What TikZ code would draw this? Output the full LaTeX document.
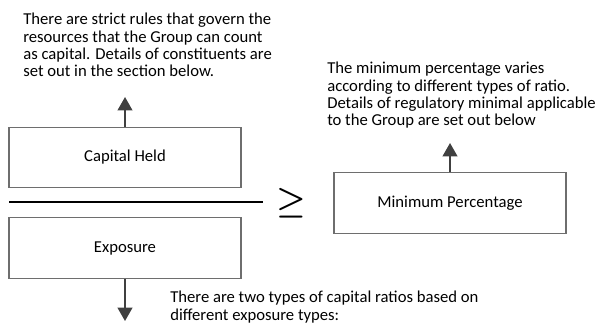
\documentclass[tikz,border=0pt]{standalone}
\usepackage{fontspec}
\setmainfont{Carlito}
\usepackage{tikz}
\usetikzlibrary{arrows.meta}
\definecolor{boxgray}{RGB}{110,110,110}
\definecolor{arrgray}{RGB}{64,64,64}

\begin{document}
\begin{tikzpicture}[x=0.75pt,y=-0.75pt,
  box/.style={draw=boxgray,line width=0.8pt,minimum width=174pt,minimum height=45.5pt,font=\fontsize{12.5pt}{13pt}\selectfont},
  note/.style={inner sep=0pt,align=left,font=\fontsize{12.5pt}{13pt}\selectfont},
  arr/.style={draw=arrgray,line width=1.4pt,-{Triangle[width=11pt,length=10pt]}}]
\useasboundingbox (0,0) rectangle (606,326);
\node[box] (held) at (125,157.5) {Capital Held};
\node[box] (expo) at (125,248) {Exposure};
\node[box] (minpct) at (450,203) {Minimum Percentage};
\node[note,anchor=north west] (heldnote) at (23,13) {There are strict rules that govern the\\resources that the Group can count\\as capital. Details of constituents are\\set out in the section below.};
\node[note,anchor=north west] (minnote) at (327,62) {The minimum percentage varies\\according to different types of ratio.\\Details of regulatory minimal applicable\\to the Group are set out below};
\node[note,anchor=north west] (exponote) at (170,291) {There are two types of capital ratios based on\\different exposure types:};
\node[inner sep=0pt,font=\fontsize{24pt}{24pt}\selectfont\mathversion{bold}] (geq) at (291.5,203.5) {$\geq$};
\coordinate (heldtip) at (125,97);
\coordinate (mintip) at (450,143);
\coordinate (expotip) at (125,321);
\draw[arr] (held.north) -- (heldtip);
\draw[arr] (minpct.north) -- (mintip);
\draw[arr] (expo.south) -- (expotip);
\draw[line width=1.2pt] (9,202) -- (263,202);
\end{tikzpicture}
\end{document}
